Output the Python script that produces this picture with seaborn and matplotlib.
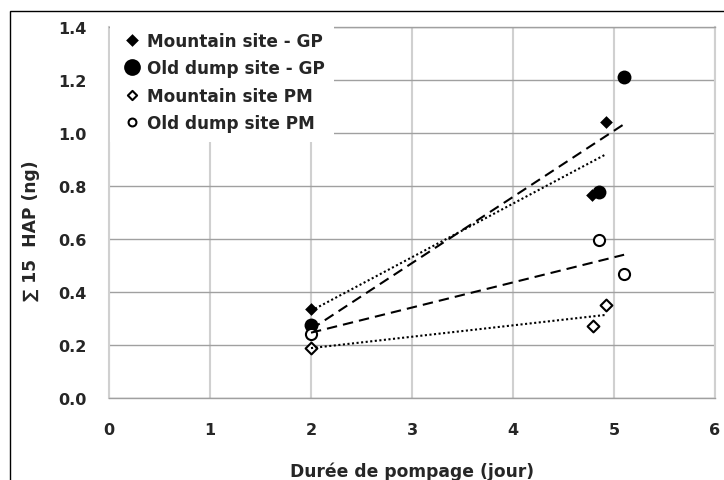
import numpy as np
import pandas as pd
import matplotlib
matplotlib.use("Agg")
import matplotlib.pyplot as plt
import seaborn as sns
from matplotlib.patches import Rectangle

# ---- data ----
series_names = ["Mountain site - GP", "Old dump site - GP",
                "Mountain site PM", "Old dump site PM"]
mountain_gp_days = [2.0, 4.78, 4.92]
mountain_gp_hap = [0.335, 0.765, 1.04]
old_dump_gp_days = [2.0, 4.85, 5.10]
old_dump_gp_hap = [0.275, 0.777, 1.212]
mountain_pm_days = [2.0, 4.79, 4.92]
mountain_pm_hap = [0.19, 0.27, 0.35]
old_dump_pm_days = [2.0, 4.85, 5.10]
old_dump_pm_hap = [0.24, 0.597, 0.467]
x_ticks = [0, 1, 2, 3, 4, 5, 6]
y_ticks = [0.0, 0.2, 0.4, 0.6, 0.8, 1.0, 1.2, 1.4]
x_label = "Durée de pompage (jour)"
y_label = "\u2211 15  HAP (ng)"

sns.set_style("white")
plt.rcParams["font.family"] = ["DejaVu Sans"]
plt.rcParams["font.weight"] = "bold"

W, H = 724, 481
fig = plt.figure(figsize=(W / 100, H / 100), dpi=100)
ax = fig.add_axes([109 / W, 1 - 399 / H, 606 / W, 371 / H])
ax.set_axisbelow(True)

styles = [
    dict(marker="D", s=42, color="black", edgecolor="black", linewidth=0, ls=(0, (1, 1.2)), leg_s=42),
    dict(marker="o", s=100, color="black", edgecolor="black", linewidth=0, ls=(0, (5, 2.9)), leg_s=145),
    dict(marker="D", s=36, color="white", edgecolor="black", linewidth=1.5, ls=(0, (1, 1.2)), leg_s=22),
    dict(marker="o", s=64, color="white", edgecolor="black", linewidth=1.5, ls=(0, (5, 2.9)), leg_s=32),
]
data = [(mountain_gp_days, mountain_gp_hap), (old_dump_gp_days, old_dump_gp_hap),
        (mountain_pm_days, mountain_pm_hap), (old_dump_pm_days, old_dump_pm_hap)]

for i, (name, (xd, yd), st) in enumerate(zip(series_names, data, styles)):
    df = pd.DataFrame({"x": xd, "y": yd})
    sns.scatterplot(data=df, x="x", y="y", marker=st["marker"], s=st["s"],
                    color=st["color"], edgecolor=st["edgecolor"],
                    linewidth=st["linewidth"], label=name, ax=ax, zorder=3 + i * 0.1)
for i, ((xd, yd), st) in enumerate(zip(data, styles)):
    df = pd.DataFrame({"x": xd, "y": yd})
    sns.regplot(data=df, x="x", y="y", ci=None, scatter=False, truncate=True, ax=ax,
                line_kws=dict(color="black", lw=1.5, ls=st["ls"], zorder=4))

ax.set_xlim(0, 6)
ax.set_ylim(0, 1.4)
ax.set_xticks(x_ticks)
ax.set_yticks(y_ticks)
ax.set_xticklabels([str(t) for t in x_ticks])
ax.set_yticklabels([f"{t:.1f}" for t in y_ticks])

ax.grid(axis="y", color="#a0a0a0", lw=1)
ax.grid(axis="x", color="#d0d0d0", lw=1.5)
for side in ["top", "bottom"]:
    ax.spines[side].set_color("#a0a0a0")
    ax.spines[side].set_linewidth(1)
for side in ["left", "right"]:
    ax.spines[side].set_color("#d0d0d0")
    ax.spines[side].set_linewidth(1.5)

ax.tick_params(axis="y", length=5, width=1, color="#a0a0a0", pad=11, labelsize=11.5)
ax.tick_params(axis="x", length=5, width=1.5, color="#d0d0d0", pad=12.5, labelsize=11.5)
for lab in ax.get_xticklabels() + ax.get_yticklabels():
    lab.set_fontweight("bold")

ax.set_xlabel(x_label, fontsize=12.3, fontweight="bold", va="top")
ax.xaxis.set_label_coords(0.5, -0.17)
ax.set_ylabel(y_label, fontsize=12.3, fontweight="bold", va="center", ha="center")
ax.yaxis.set_label_coords(-0.129, 0.453)

leg = ax.legend(loc="upper left", bbox_to_anchor=(0.0015, 1.012), borderaxespad=0,
                frameon=True, fancybox=False, facecolor="white", edgecolor="none",
                framealpha=1, handlelength=1.47, handletextpad=0.15, labelspacing=0.56,
                borderpad=0.55, scatterpoints=1, scatteryoffsets=[0.5],
                prop={"weight": "bold", "size": 12.2})
leg.set_zorder(10)
for h, st in zip(leg.legend_handles, styles):
    h.set_sizes([st["leg_s"]])

fig.add_artist(Rectangle((9.5 / W, -0.05), 1.2, 1.05 - 11.5 / H,
                         transform=fig.transFigure, fill=False,
                         edgecolor="black", lw=1))

fig.savefig("out.png", dpi=100)
